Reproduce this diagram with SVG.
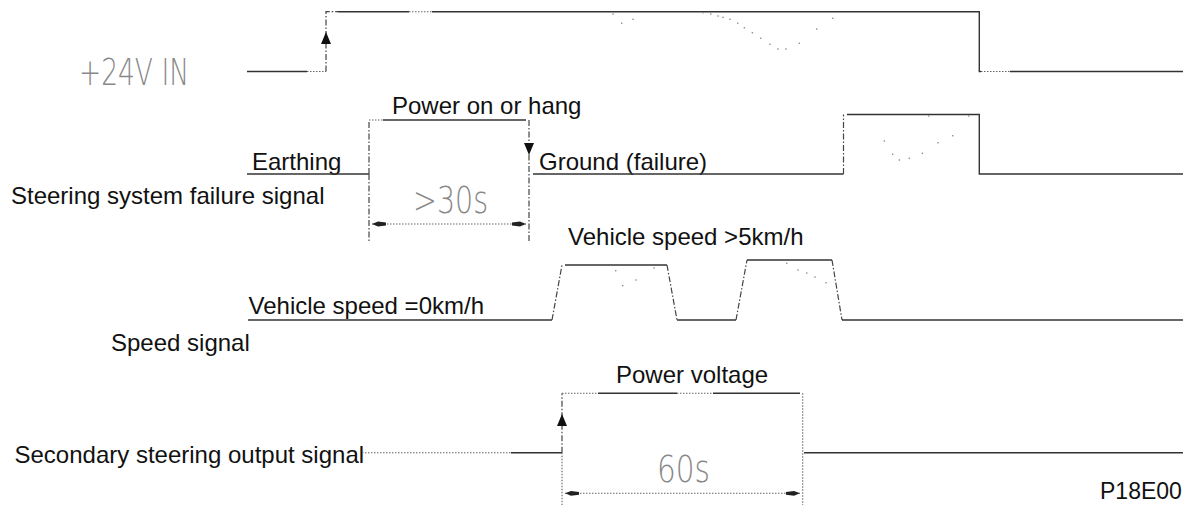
<svg xmlns="http://www.w3.org/2000/svg" xmlns:xlink="http://www.w3.org/1999/xlink" width="1183" height="505" viewBox="0 0 1183 505">
<style>
.w{stroke:#333;stroke-width:1.4;fill:none}
.d{stroke:#666;stroke-width:1.1;fill:none;stroke-dasharray:1.5 1.5}
.dd{stroke:#444;stroke-width:1.2;fill:none;stroke-dasharray:6 2 1.5 2}
.lbl{font-family:"Liberation Sans",Arial,sans-serif;font-size:24px;fill:#111}
.cad{font-family:"DejaVu Sans",sans-serif;font-weight:200;font-size:38px;fill:#888}
.dots{stroke:#888;stroke-width:1.6;stroke-linecap:round;fill:none}
</style>
<defs>
<path id="arrUp" d="M0,0 L-5,12 L5,12 Z" fill="#111"/>
<path id="arrDn" d="M0,0 L-5,-12 L5,-12 Z" fill="#111"/>
<marker id="dim" viewBox="0 0 14 6" refX="14" refY="3" markerWidth="14" markerHeight="6" markerUnits="userSpaceOnUse" orient="auto-start-reverse">
<path d="M14,3 L8,0.6 L0,1.6 L0,4.4 L8,5.4 Z" fill="#222"/>
</marker>
</defs>
<rect width="1183" height="505" fill="#fff"/>

<g id="labels">
<text class="cad" x="79" y="85" textLength="110" lengthAdjust="spacingAndGlyphs">+24V IN</text>
<text class="lbl" x="392" y="113.5">Power on or hang</text>
<text class="lbl" x="252" y="170">Earthing</text>
<text class="lbl" x="11" y="204">Steering system failure signal</text>
<text class="lbl" x="539" y="169.5">Ground (failure)</text>
<text class="lbl" x="568" y="244.5">Vehicle speed &gt;5km/h</text>
<text class="lbl" x="248.5" y="313.5">Vehicle speed =0km/h</text>
<text class="lbl" x="111" y="351">Speed signal</text>
<text class="lbl" x="616" y="382.5">Power voltage</text>
<text class="lbl" x="14.5" y="463">Secondary steering output signal</text>
<text class="lbl" x="1100" y="499" style="font-size:23px">P18E00</text>
<text class="cad" x="413" y="213" textLength="75" lengthAdjust="spacingAndGlyphs">&gt;30s</text>
<text class="cad" x="657" y="482" textLength="53" lengthAdjust="spacingAndGlyphs">60s</text>
</g>

<g id="sig-24v">
<path class="w" d="M247,71.5 H307"/>
<path class="d" d="M307,71.5 H326"/>
<path class="dd" d="M326,71.5 V11.7 H338"/>
<path class="w" d="M338,11.7 H409"/>
<path class="d" d="M409,11.7 H432"/>
<path class="w" d="M432,11.7 H979.3 V71.5 H981"/>
<path class="d" d="M981,71.5 H1010"/>
<path class="w" d="M1010,71.5 H1183"/>
<path class="dots" d="M613,14h.1M621.7,23.3h.1M633,19.3h.1M703,12.7h.1M710.7,14h.1M718,16h.1M723,17.3h.1M730,19.3h.1M737.7,23.3h.1M744.3,27.7h.1M752.3,32.7h.1M760.7,38.3h.1M770,44.3h.1M778,49h.1M786,49h.1M799.3,43.3h.1M816.7,29h.1M832.7,18.3h.1"/>
</g>

<g id="sig-failure">
<path class="w" d="M247,174 H369"/>
<path class="dd" d="M369,174 V120"/>
<path class="d" d="M369,120 H383"/>
<path class="w" d="M383,120 H526"/>
<path class="dd" d="M529,120 V241"/>
<path class="dd" d="M369,174 V241"/>
<path class="w" d="M533,174 H843.5"/>
<path class="dd" d="M843.5,174 V114.5"/>
<path class="w" d="M847,114.5 H979.3 V174 H1183"/>
<path class="dots" d="M884.3,141h.1M892.7,154.3h.1M899.3,160h.1M909.3,158.3h.1M922.3,153.3h.1M938,142.7h.1M952.7,135.7h.1M928.7,116h.1M968.7,116h.1"/>
</g>

<g id="sig-speed">
<path class="w" d="M248,320 H552"/>
<path class="dd" d="M552,320 L562,265"/>
<path class="w" d="M565,265 H667"/>
<path class="dd" d="M667,265 L677,320"/>
<path class="w" d="M677,320 H736"/>
<path class="dd" d="M736,320 L747,260"/>
<path class="w" d="M747,260 H832"/>
<path class="dd" d="M832,260 L842,320"/>
<path class="w" d="M842,320 H1183"/>
<path class="dots" d="M615.7,270.7h.1M622.7,285.7h.1M636,280h.1M654,268h.1M786.7,263.3h.1M798,270h.1M806.7,273h.1M815,277h.1M826,282.7h.1"/>
</g>

<g id="sig-secondary">
<path class="d" d="M362,452.7 H511"/>
<path class="w" d="M511,452.7 H562"/>
<path class="dd" d="M562,452.7 V393.3"/>
<path class="d" d="M562,452.7 V505"/>
<path class="d" d="M562,393.3 H598"/>
<path class="w" d="M598,393.3 H677"/>
<path class="d" d="M677,393.3 H713"/>
<path class="w" d="M713,393.3 H800"/>
<path class="d" d="M802.7,393.3 V505"/>
<path class="w" d="M804,452.7 H1183"/>
</g>

<g id="connectors">
<use xlink:href="#arrUp" x="326" y="32"/>
<use xlink:href="#arrDn" x="529" y="155"/>
<use xlink:href="#arrUp" x="562" y="414"/>
<line class="d" x1="372" y1="224" x2="526" y2="224" marker-start="url(#dim)" marker-end="url(#dim)"/>
<line class="d" x1="565" y1="493.3" x2="800" y2="493.3" marker-start="url(#dim)" marker-end="url(#dim)"/>
</g>
</svg>
